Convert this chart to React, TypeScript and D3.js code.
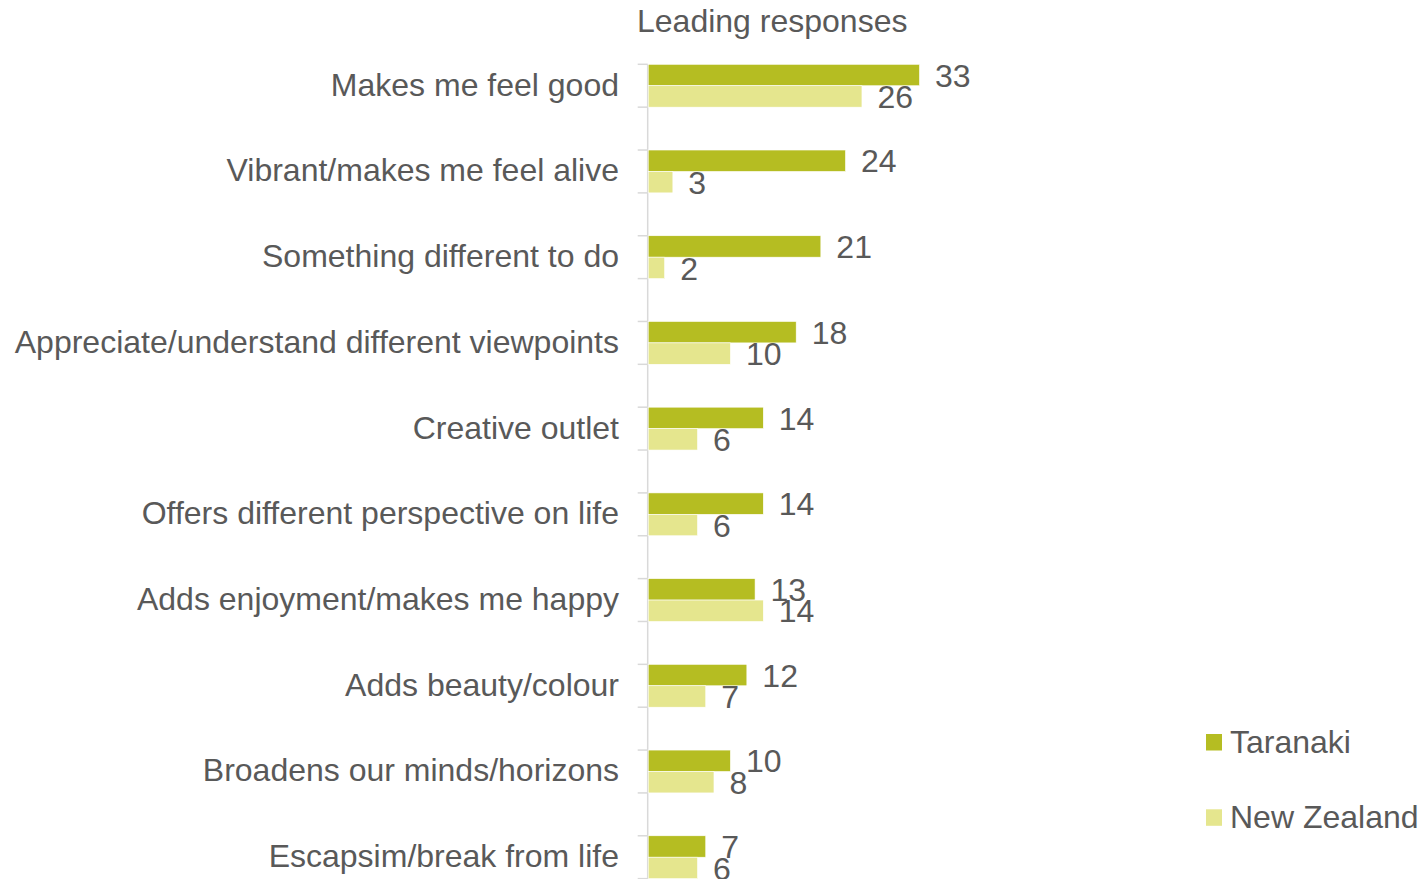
import React from "react";
import * as d3 from "d3";

const categories = [
  "Makes me feel good",
  "Vibrant/makes me feel alive",
  "Something different to do",
  "Appreciate/understand different viewpoints",
  "Creative outlet",
  "Offers different perspective on life",
  "Adds enjoyment/makes me happy",
  "Adds beauty/colour",
  "Broadens our minds/horizons",
  "Escapsim/break from life",
];
const taranaki = [33, 24, 21, 18, 14, 14, 13, 12, 10, 7];
const newZealand = [26, 3, 2, 10, 6, 6, 14, 7, 8, 6];
const seriesNames = ["Taranaki", "New Zealand"];
const title = "Leading responses";

const W = 1422;
const H = 879;
const COLORS = ["#B5BD22", "#E5E68E"];
const TEXT = "#595959";
const FONT = "'Liberation Sans', Arial, sans-serif";

export default function App() {
  const axisX = 647.7;
  const x = d3.scaleLinear().domain([0, 33]).range([axisX, 919]);
  const y = d3
    .scaleBand<string>()
    .domain(categories)
    .range([64.3, 64.3 + 9.5 * 85.72])
    .paddingInner(0.5)
    .paddingOuter(0);
  const sub = d3
    .scaleBand<string>()
    .domain(seriesNames)
    .range([0, y.bandwidth()]);
  const series = [taranaki, newZealand];

  const tickYs: number[] = [];
  categories.forEach((c) => {
    tickYs.push(y(c)!);
    tickYs.push(y(c)! + y.bandwidth());
  });

  return (
    <svg
      width={W}
      height={H}
      style={{ position: "absolute", left: 0, top: 0, display: "block", background: "#fff" }}
      fontFamily={FONT}
    >
      <text x={637} y={32} fontSize={32} fill={TEXT}>
        {title}
      </text>

      {/* axis */}
      <line x1={axisX} x2={axisX} y1={64.3} y2={H + 30} stroke="#D9D9D9" strokeWidth={1.5} />
      {tickYs.map((t, i) => (
        <line key={i} x1={axisX - 10} x2={axisX} y1={t} y2={t} stroke="#D9D9D9" strokeWidth={1.5} />
      ))}

      {categories.map((c, i) => {
        const y0 = y(c)!;
        const center = y0 + y.bandwidth() / 2;
        return (
          <g key={c}>
            <text x={619} y={center + 10} fontSize={32} fill={TEXT} textAnchor="end">
              {c}
            </text>
            {series.map((vals, s) => {
              const by = y0 + sub(seriesNames[s])!;
              const bh = sub.bandwidth();
              return (
                <g key={s}>
                  <rect
                    x={x(0) + 0.5}
                    y={by}
                    width={x(vals[i]) - x(0)}
                    height={bh}
                    fill={COLORS[s]}
                    stroke="#fff"
                    strokeWidth={0.6}
                  />
                  <text x={x(vals[i]) + 16} y={by + bh + 1} fontSize={32} fill={TEXT}>
                    {vals[i]}
                  </text>
                </g>
              );
            })}
          </g>
        );
      })}

      {/* legend */}
      {seriesNames.map((n, i) => (
        <g key={n} transform={`translate(1206, ${734 + i * 75.3})`}>
          <rect x={0} y={0} width={16} height={16.5} fill={COLORS[i]} />
          <text x={24} y={19} fontSize={32} fill={TEXT}>
            {n}
          </text>
        </g>
      ))}
    </svg>
  );
}
